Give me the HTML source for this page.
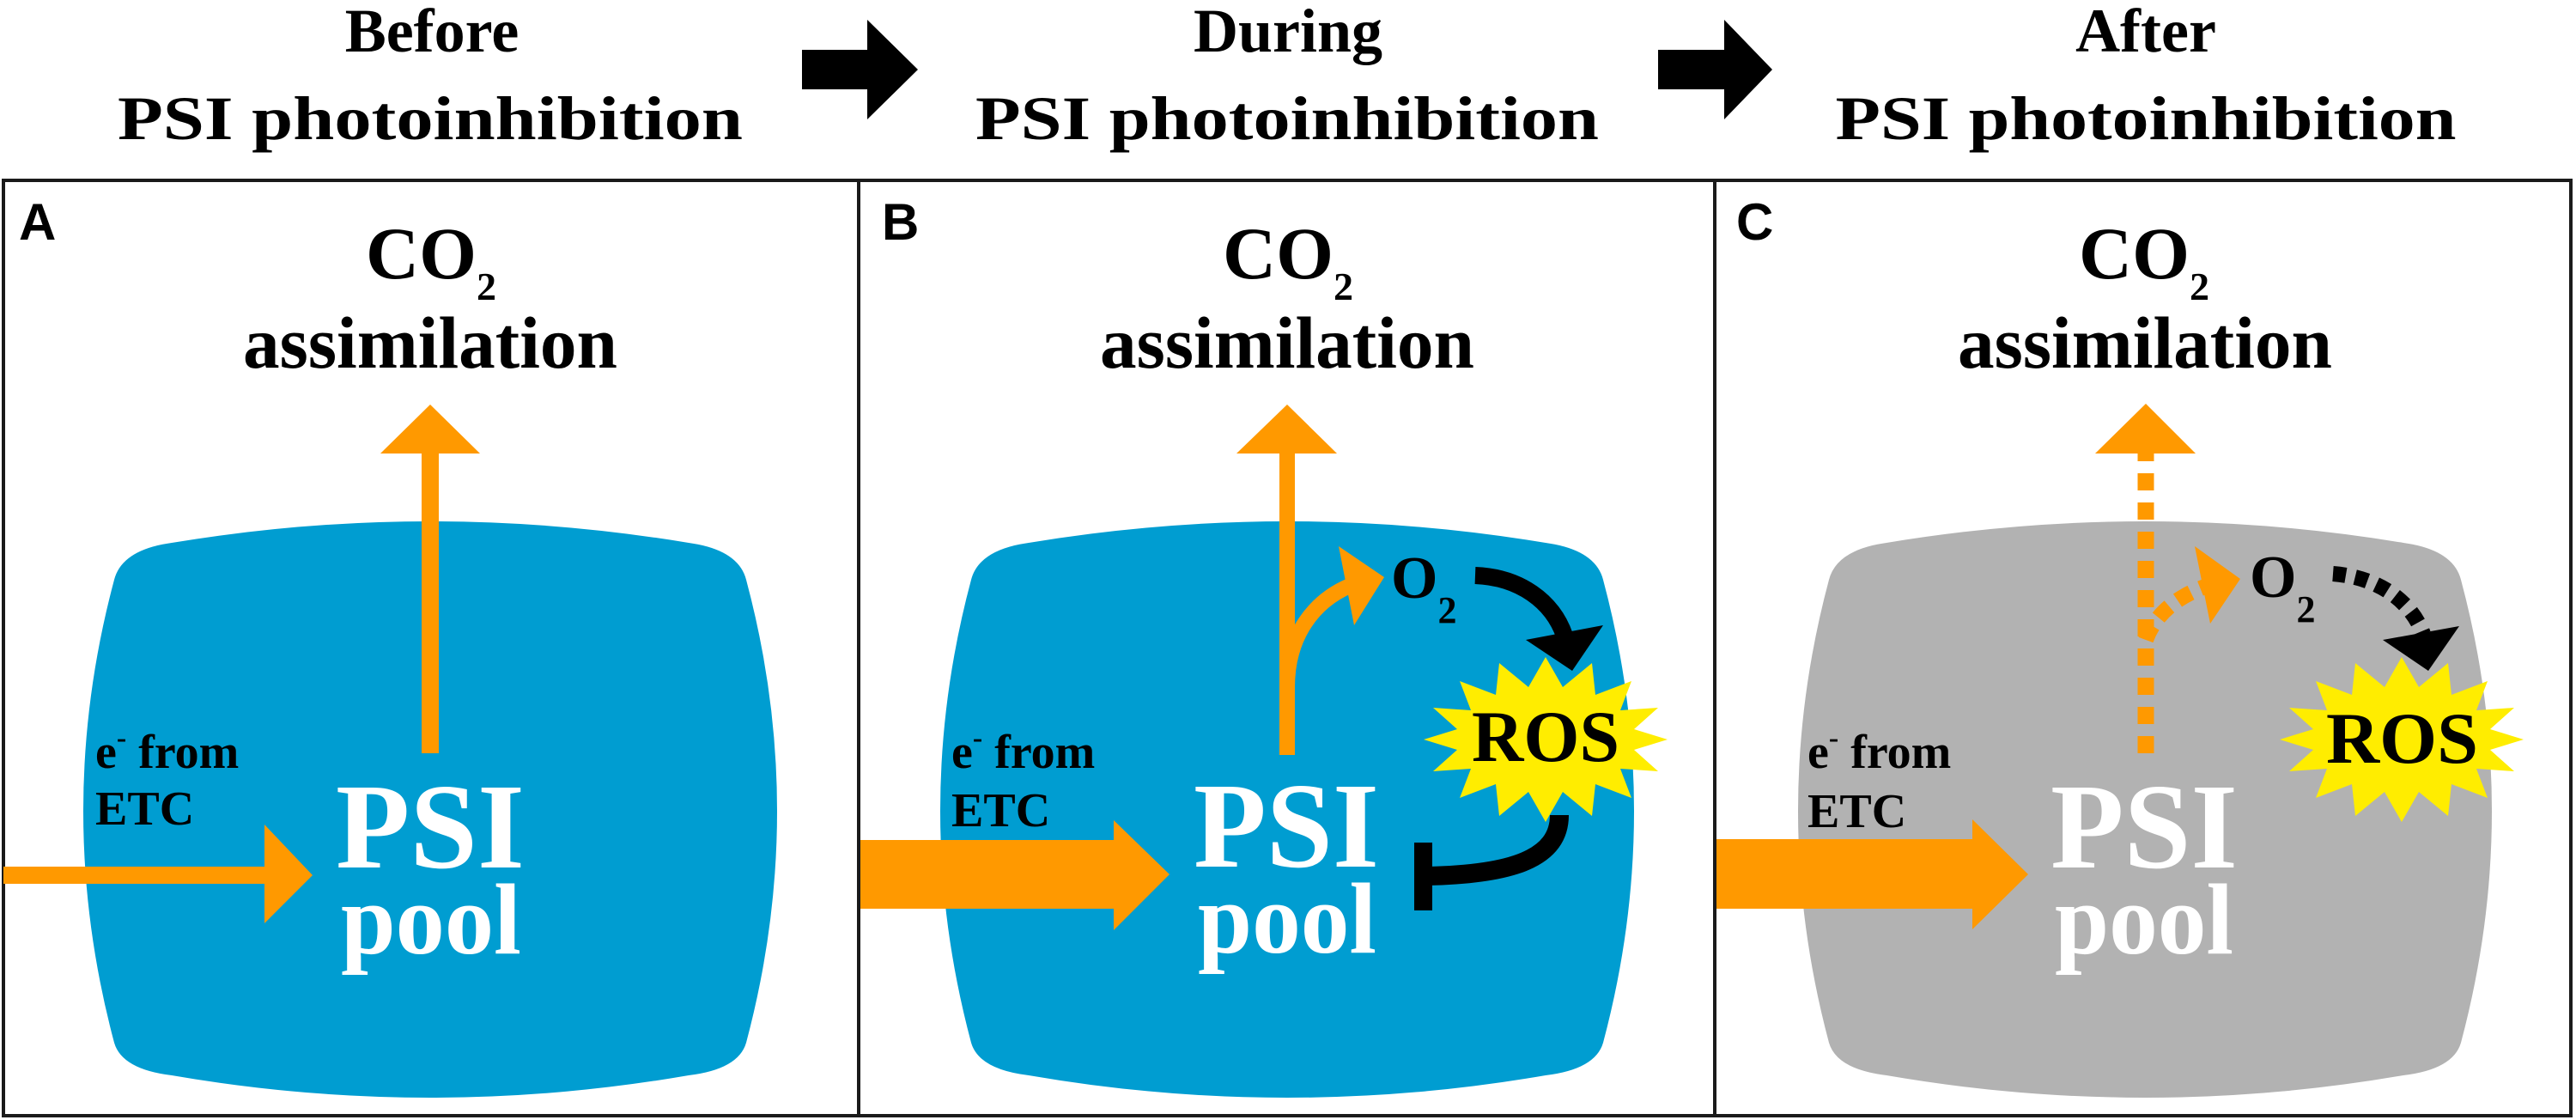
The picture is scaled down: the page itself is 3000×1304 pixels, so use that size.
<!DOCTYPE html>
<html><head><meta charset="utf-8"><style>
html,body{margin:0;padding:0;background:#fff;}
svg{display:block;}
.t{font-family:"Liberation Serif",serif;font-weight:bold;}
.s{font-family:"Liberation Sans",sans-serif;font-weight:bold;}
</style></head><body>
<svg width="3000" height="1304" viewBox="0 0 3000 1304" xmlns="http://www.w3.org/2000/svg">
<defs>
<path id="blob" d="M-301,632 Q0,582 301,632 Q359,640 368,675 Q440,944 368,1214 Q359,1245 301,1252 Q0,1304 -301,1252 Q-359,1245 -368,1214 Q-440,944 -368,675 Q-359,640 -301,632 Z"/>
<polygon id="burst" points="142,0 103,12 131,37 87,34 100,68 58,52 54,89 20,61 0,96 -20,61 -54,89 -58,52 -100,68 -87,34 -131,37 -103,12 -142,0 -103,-12 -131,-37 -87,-34 -100,-68 -58,-52 -54,-89 -20,-61 0,-96 20,-61 54,-89 58,-52 100,-68 87,-34 131,-37 103,-12"/>
</defs>

<!-- Titles -->
<g class="t" font-size="72" text-anchor="middle" fill="#000">
<text x="503" y="60">Before</text>
<text x="501" y="162" textLength="728" lengthAdjust="spacingAndGlyphs">PSI photoinhibition</text>
<text x="1500" y="60">During</text>
<text x="1499" y="162" textLength="726" lengthAdjust="spacingAndGlyphs">PSI photoinhibition</text>
<text x="2499" y="60">After</text>
<text x="2499" y="162" textLength="723" lengthAdjust="spacingAndGlyphs">PSI photoinhibition</text>
</g>
<!-- black step arrows -->
<polygon points="934,58 1010,58 1010,23 1069,81 1010,139 1010,104 934,104" fill="#000"/>
<polygon points="1931,58 2008,58 2008,23 2064,81 2008,139 2008,104 1931,104" fill="#000"/>

<!-- Blobs -->
<use href="#blob" x="501" fill="#009DD1"/>
<use href="#blob" x="1499" fill="#009DD1"/>
<use href="#blob" x="2498" fill="#B2B2B2"/>

<!-- Panel frames -->
<rect x="4" y="210" width="2990" height="1089" fill="none" stroke="#1a1a1a" stroke-width="4"/>
<line x1="1000" y1="210" x2="1000" y2="1299" stroke="#1a1a1a" stroke-width="4"/>
<line x1="1997" y1="210" x2="1997" y2="1299" stroke="#1a1a1a" stroke-width="4"/>

<!-- Panel labels -->
<g class="s" font-size="60" fill="#000">
<text x="22" y="279">A</text>
<text x="1027" y="279">B</text>
<text x="2022" y="279">C</text>
</g>

<!-- CO2 assimilation -->
<g class="t" fill="#000">
<text x="426" y="324" font-size="86">CO<tspan font-size="46" dy="25">2</tspan></text>
<text x="283" y="428" font-size="86" textLength="436" lengthAdjust="spacingAndGlyphs">assimilation</text>
<text x="1424" y="324" font-size="86">CO<tspan font-size="46" dy="25">2</tspan></text>
<text x="1281" y="428" font-size="86" textLength="436" lengthAdjust="spacingAndGlyphs">assimilation</text>
<text x="2421" y="324" font-size="86">CO<tspan font-size="46" dy="25">2</tspan></text>
<text x="2280" y="428" font-size="86" textLength="436" lengthAdjust="spacingAndGlyphs">assimilation</text>
</g>

<!-- Panel A arrows -->
<rect x="491" y="526" width="20" height="351" fill="#FF9900"/>
<polygon points="443,528 501,471 559,528" fill="#FF9900"/>
<rect x="4" y="1009" width="306" height="20" fill="#FF9900"/>
<polygon points="308,960 364,1019 308,1075" fill="#FF9900"/>

<!-- Panel B arrows -->
<rect x="1490" y="526" width="18" height="353" fill="#FF9900"/>
<polygon points="1440,528 1499,471 1557,528" fill="#FF9900"/>
<path d="M1499,800 C1499,740 1530,700 1572,682" fill="none" stroke="#FF9900" stroke-width="18"/>
<polygon points="1559,636 1612,672 1577,728" fill="#FF9900"/>
<rect x="1002" y="978" width="297" height="80" fill="#FF9900"/>
<polygon points="1297,955 1362,1018 1297,1083" fill="#FF9900"/>
<path d="M1718,670 C1770,672 1808,700 1822,740" fill="none" stroke="#000" stroke-width="20"/>
<polygon points="1777,745 1867,728 1831,781" fill="#000"/>

<!-- Panel C arrows -->
<path d="M2499,877 L2499,528" fill="none" stroke="#FF9900" stroke-width="19" stroke-dasharray="20 14"/>
<polygon points="2440,528 2499,470 2557,528" fill="#FF9900"/>
<path d="M2499,745 C2510,715 2535,695 2568,683" fill="none" stroke="#FF9900" stroke-width="18" stroke-dasharray="18 12"/>
<polygon points="2556,636 2609,674 2574,726" fill="#FF9900"/>
<rect x="1999" y="977" width="298" height="81" fill="#FF9900"/>
<polygon points="2297,954 2362,1018 2297,1082" fill="#FF9900"/>
<path d="M2717,668 C2770,672 2808,700 2822,738" fill="none" stroke="#000" stroke-width="18" stroke-dasharray="15 11"/>
<polygon points="2775,745 2864,729 2828,781" fill="#000"/>

<!-- ROS bursts -->
<use href="#burst" x="1800" y="861" fill="#FFED00"/>
<use href="#burst" x="2797" y="861" fill="#FFED00"/>
<g class="t" fill="#000" font-size="85">
<text x="1714" y="886" textLength="172" lengthAdjust="spacingAndGlyphs">ROS</text>
<text x="2709" y="888" textLength="177" lengthAdjust="spacingAndGlyphs">ROS</text>
</g>

<!-- inhibition bar B -->
<path d="M1816,949 C1816,1000 1760,1018 1662,1020" fill="none" stroke="#000" stroke-width="22"/>
<rect x="1647" y="981" width="21" height="79" fill="#000"/>

<!-- O2 -->
<g class="t" fill="#000">
<text x="1620" y="696" font-size="70">O<tspan font-size="44" dy="29">2</tspan></text>
<text x="2620" y="695" font-size="70">O<tspan font-size="44" dy="29">2</tspan></text>
</g>

<!-- e- from ETC -->
<g class="t" fill="#000" font-size="56">
<text x="111" y="894">e<tspan font-size="34" dy="-24">-</tspan><tspan dy="24"> from</tspan></text>
<text x="111" y="960">ETC</text>
<text x="1108" y="894">e<tspan font-size="34" dy="-24">-</tspan><tspan dy="24"> from</tspan></text>
<text x="1108" y="962">ETC</text>
<text x="2105" y="894">e<tspan font-size="34" dy="-24">-</tspan><tspan dy="24"> from</tspan></text>
<text x="2105" y="963">ETC</text>
</g>

<!-- PSI pool -->
<g class="t" fill="#fff" text-anchor="middle">
<text x="501" y="1010" font-size="142" textLength="220" lengthAdjust="spacingAndGlyphs">PSI</text>
<text x="502" y="1110" font-size="118" textLength="210" lengthAdjust="spacingAndGlyphs">pool</text>
<text x="1498" y="1009" font-size="142" textLength="216" lengthAdjust="spacingAndGlyphs">PSI</text>
<text x="1499" y="1109" font-size="118" textLength="208" lengthAdjust="spacingAndGlyphs">pool</text>
<text x="2497" y="1010" font-size="142" textLength="218" lengthAdjust="spacingAndGlyphs">PSI</text>
<text x="2497" y="1110" font-size="118" textLength="208" lengthAdjust="spacingAndGlyphs">pool</text>
</g>
</svg>
</body></html>
